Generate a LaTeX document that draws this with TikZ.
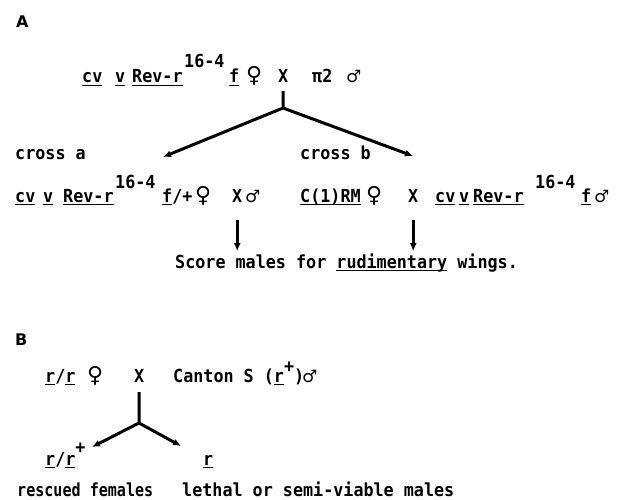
\documentclass[tikz,border=0pt]{standalone}
\usepackage{fontspec}
\setmainfont{DejaVu Sans Mono}[FakeStretch=0.93]
\newfontfamily\symf{DejaVu Sans}
\usetikzlibrary{arrows.meta}
\newcommand\uln[1]{\leavevmode\vtop{\hbox{\smash{#1}}\kern1.8pt\hrule height 1.6pt}}
\newcommand\fem{{\symf\fontsize{22}{22}\selectfont\bfseries ♀}}
\newcommand\mal{{\symf\fontsize{17}{17}\selectfont\bfseries ♂}}
\begin{document}
\begin{tikzpicture}[x=1pt,y=-1pt,
  t/.style={anchor=base west,inner sep=0pt,font=\fontsize{18}{18}\selectfont\bfseries},
  lab/.style={anchor=base west,inner sep=0pt,font=\symf\fontsize{16}{16}\selectfont\bfseries},
  ln/.style={line width=3pt},
  ar/.style={line width=3pt,-{Latex[length=8pt,width=7pt]}}]
\useasboundingbox (0,0) rectangle (624,500);
% ---------- A ----------
\node[lab] (A) at (16,28) {A};
\node[t] (a1) at (82,83) {\uln{cv}};
\node[t] (a2) at (115,83) {\uln{v}};
\node[t] (a3) at (132,83) {\uln{Rev-r}};
\node[t] (a4) at (184,68) {16-4};
\node[t] (a5) at (229,83) {\uln{f}};
\node[t] (a6) at (246,83) {\fem};
\node[t] (ax) at (278,83) {X};
\node[t] (a7) at (312,83) {π2};
\node[t] (a8) at (346,83) {\mal};
\coordinate (j1) at (283,108);
\coordinate (tl) at (163,157);
\coordinate (tr) at (413,156);
\draw[ln] ([yshift=-8pt]ax.south) -- (j1);
\draw[ar] (j1) -- (tl);
\draw[ar] (j1) -- (tr);
\node[t] (crA) at (15,160) {cross a};
\node[t] (crB) at (300,160) {cross b};
% left cross
\node[t] (b1) at (15,202) {\uln{cv}};
\node[t] (b2) at (43,202) {\uln{v}};
\node[t] (b3) at (63,202) {\uln{Rev-r}};
\node[t] (b4) at (115,189) {16-4};
\node[t] (b5) at (162,202) {\uln{f}/+};
\node[t] (b6) at (195,202) {\fem};
\node[t] (bx) at (232,202) {X};
\node[t] (b7) at (245,202) {\mal};
% right cross
\node[t] (c1) at (300,202) {\uln{C(1)RM}};
\node[t] (c2) at (366,202) {\fem};
\node[t] (cx) at (408,202) {X};
\node[t] (c3) at (435,202) {\uln{cv}};
\node[t] (c4) at (459,202) {\uln{v}};
\node[t] (c5) at (473,202) {\uln{Rev-r}};
\node[t] (c6) at (535,189) {16-4};
\node[t] (c7) at (581,202) {\uln{f}};
\node[t] (c8) at (594,202) {\mal};
\node[t] (sc) at (175,268) {Score males for \uln{rudimentary} wings.};
\draw[ar] ([yshift=-18pt]bx.south) -- ([yshift=2pt]bx.south |- sc.north);
\draw[ar] ([yshift=-18pt]cx.south) -- ([yshift=2pt]cx.south |- sc.north);
% ---------- B ----------
\node[lab] (B) at (15,345) {B};
\node[t] (d1) at (45,382) {\uln{r}/\uln{r}};
\node[t] (d2) at (87,382) {\fem};
\node[t] (dx) at (134,382) {X};
\node[t] (d3) at (173,382) {Canton S (\uln{r}\raisebox{10pt}{+})};
\node[t] (d4) at (302,382) {\mal};
\coordinate (j2) at (139,423);
\coordinate (ul) at (92,447);
\coordinate (ur) at (181,446);
\draw[ln] ([yshift=-10pt]dx.south) -- (j2);
\draw[ar] (j2) -- (ul);
\draw[ar] (j2) -- (ur);
\node[t] (e1) at (45,465) {\uln{r}/\uln{r}\raisebox{12pt}{+}};
\node[t] (e2) at (203,465) {\uln{r}};
\node[t] (f1) at (17,496) {\scalebox{0.9}[1]{rescued females}};
\node[t] (f2) at (182,496) {lethal or semi-viable males};
\end{tikzpicture}
\end{document}
